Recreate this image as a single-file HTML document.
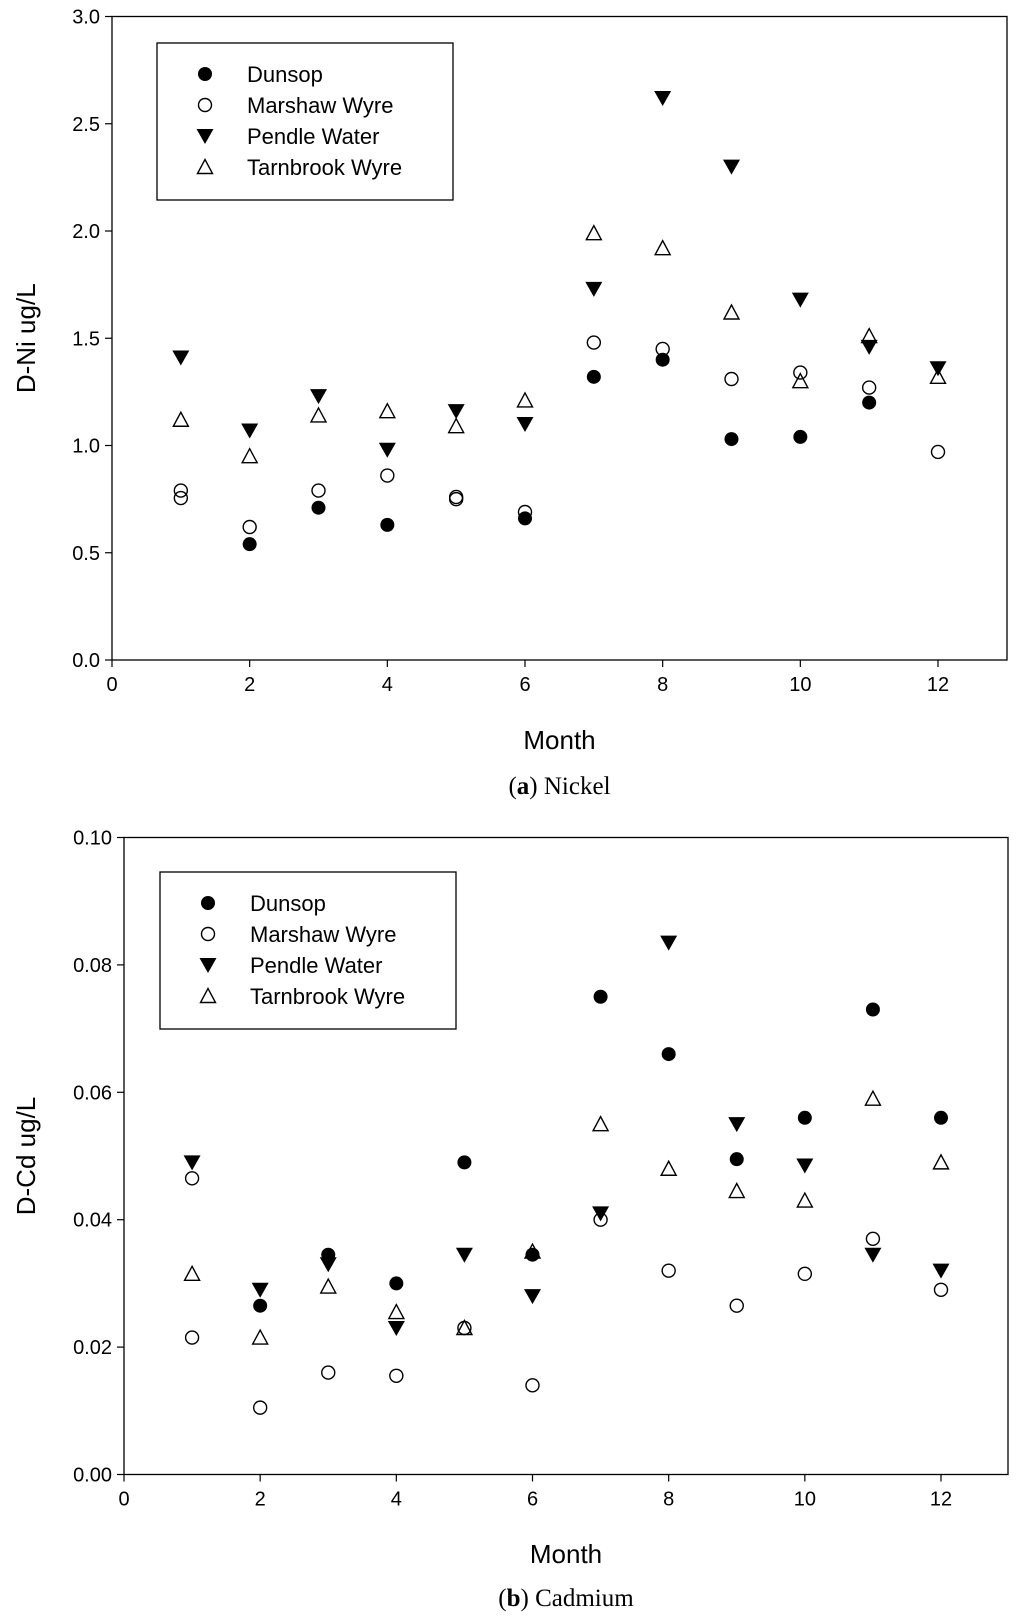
<!DOCTYPE html>
<html><head><meta charset="utf-8"><style>
html,body{margin:0;padding:0;background:#fff;}
svg{display:block;font-family:"Liberation Sans",Arial,sans-serif;}
</style></head><body>
<svg id="fig" width="1024" height="1618" viewBox="0 0 1024 1618" xmlns="http://www.w3.org/2000/svg"></svg>
<script>
const months = [1,2,3,4,5,6,7,8,9,10,11,12];
const xTicks = [0,2,4,6,8,10,12];
const seriesNames = ["Dunsop","Marshaw Wyre","Pendle Water","Tarnbrook Wyre","Marshaw Wyre extra"];
const niDunsop = [null,0.54,0.71,0.63,null,0.66,1.32,1.40,1.03,1.04,1.20,null];
const niMarshaw = [0.79,0.62,0.79,0.86,0.76,0.69,1.48,1.45,1.31,1.34,1.27,0.97];
const niPendle = [1.41,1.07,1.23,0.98,1.16,1.10,1.73,2.62,2.30,1.68,1.46,1.36];
const niTarn = [1.12,0.95,1.14,1.16,1.09,1.21,1.99,1.92,1.62,1.30,1.51,1.32];
const niExtra = [0.755,null,null,null,0.75,null,null,null,null,null,null,null];
const niTicks = ["0.0","0.5","1.0","1.5","2.0","2.5","3.0"];
const cdDunsop = [null,0.0265,0.0345,0.030,0.049,0.0345,0.075,0.066,0.0495,0.056,0.073,0.056];
const cdMarshaw = [0.0465,0.0105,0.016,0.0155,0.023,0.014,0.040,0.032,0.0265,0.0315,0.037,0.029];
const cdPendle = [0.049,0.029,0.033,0.023,0.0345,0.028,0.041,0.0835,0.055,0.0485,0.0345,0.032];
const cdTarn = [0.0315,0.0215,0.0295,0.0255,0.023,0.035,0.055,0.048,0.0445,0.043,0.059,0.049];
const cdExtra = [0.0215,null,null,null,null,null,null,null,null,null,null,null];
const cdTicks = ["0.00","0.02","0.04","0.06","0.08","0.10"];

const NS="http://www.w3.org/2000/svg";
const svg=document.getElementById('fig');
function mk(tag,attrs,parent){const e=document.createElementNS(NS,tag);for(const k in attrs)e.setAttribute(k,attrs[k]);(parent||svg).appendChild(e);return e;}
function marker(g,type,cx,cy){
  let e;
  if(type===0){e=mk('circle',{cx:cx,cy:cy,r:7,fill:'#000'},g);}
  else if(type===1||type===4){e=mk('circle',{cx:cx,cy:cy,r:6.5,fill:'none',stroke:'#000','stroke-width':1.4},g);}
  else if(type===2){e=mk('path',{d:`M${cx-8.5},${cy-7}L${cx+8.5},${cy-7}L${cx},${cy+8}Z`,fill:'#000'},g);}
  else {e=mk('path',{d:`M${cx-7.5},${cy+6.5}L${cx+7.5},${cy+6.5}L${cx},${cy-7.5}Z`,fill:'none',stroke:'#000','stroke-width':1.4},g);}
  return e;
}
function panel(p){
  const g=mk('g',{});
  
  
  const xs=v=>p.x0+(p.x12-p.x0)*v/12;
  const ys=v=>p.yb+(p.yt-p.yb)*v/p.ymax;
  const frame=mk('rect',{x:p.x0,y:p.yt,width:p.xr-p.x0,height:p.yb-p.yt,fill:'none',stroke:'#000','stroke-width':1.3},g);
  
  
  xTicks.forEach(t=>{
    const x=xs(t);
    mk('line',{x1:x,y1:p.yb,x2:x,y2:p.yb+7,stroke:'#000','stroke-width':1.2},g);
    const tx=mk('text',{x:x,y:p.yb+31,'font-size':20,'text-anchor':'middle'},g);tx.textContent=t;
    
    
  });
  p.ticks.forEach(t=>{
    const y=ys(parseFloat(t));
    mk('line',{x1:p.x0-7,y1:y,x2:p.x0,y2:y,stroke:'#000','stroke-width':1.2},g);
    const tx=mk('text',{x:p.x0-12,y:y+7,'font-size':20,'text-anchor':'end'},g);tx.textContent=t;
    
    
  });
  const xl=mk('text',{x:(p.x0+p.xr)/2,y:p.monthY,'font-size':26,'text-anchor':'middle'},g);xl.textContent='Month';
  
  
  const yc=(p.yt+p.yb)/2;
  const yl=mk('text',{x:35,y:yc,'font-size':26,'text-anchor':'middle',transform:`rotate(-90 35 ${yc})`},g);yl.textContent=p.ylabel;
  
  
  const cap=mk('text',{x:(p.x0+p.xr)/2,y:p.capY,'font-size':25,'text-anchor':'middle','font-family':'"Liberation Serif",serif'},g);
  const b=mk('tspan',{'font-weight':'bold'},cap);
  cap.insertBefore(document.createTextNode('('),b);b.textContent=p.letter;
  cap.appendChild(document.createTextNode(') '+p.caption));
  
  
  p.series.forEach((arr,si)=>{
    arr.forEach((v,i)=>{
      if(v===null)return;
      const m=marker(g,si,xs(months[i]),ys(v));
      
      
    });
  });
  const lg=mk('g',{},g);
  
  
  mk('rect',{x:p.lx,y:p.ly,width:296,height:157,fill:'#fff',stroke:'#000','stroke-width':1.3},lg);
  seriesNames.slice(0,4).forEach((n,i)=>{
    const ey=p.ly+31+i*31;
    const le=mk('g',{},lg);
    
    
    marker(le,i,p.lx+48,ey);
    const t=mk('text',{x:p.lx+90,y:ey+8,'font-size':22},le);t.textContent=n;
  });
}
panel({name:'nickel-chart',x0:112,x12:938,xr:1007,yt:16.5,yb:660,ymax:3,ticks:niTicks,ylabel:'D-Ni ug/L',
  series:[niDunsop,niMarshaw,niPendle,niTarn,niExtra],monthY:749,capY:794,letter:'a',caption:'Nickel',lx:157,ly:43});
panel({name:'cadmium-chart',x0:124,x12:941,xr:1008,yt:837.5,yb:1474.5,ymax:0.10,ticks:cdTicks,ylabel:'D-Cd ug/L',
  series:[cdDunsop,cdMarshaw,cdPendle,cdTarn,cdExtra],monthY:1563,capY:1606,letter:'b',caption:'Cadmium',lx:160,ly:872});
</script>
</body></html>
